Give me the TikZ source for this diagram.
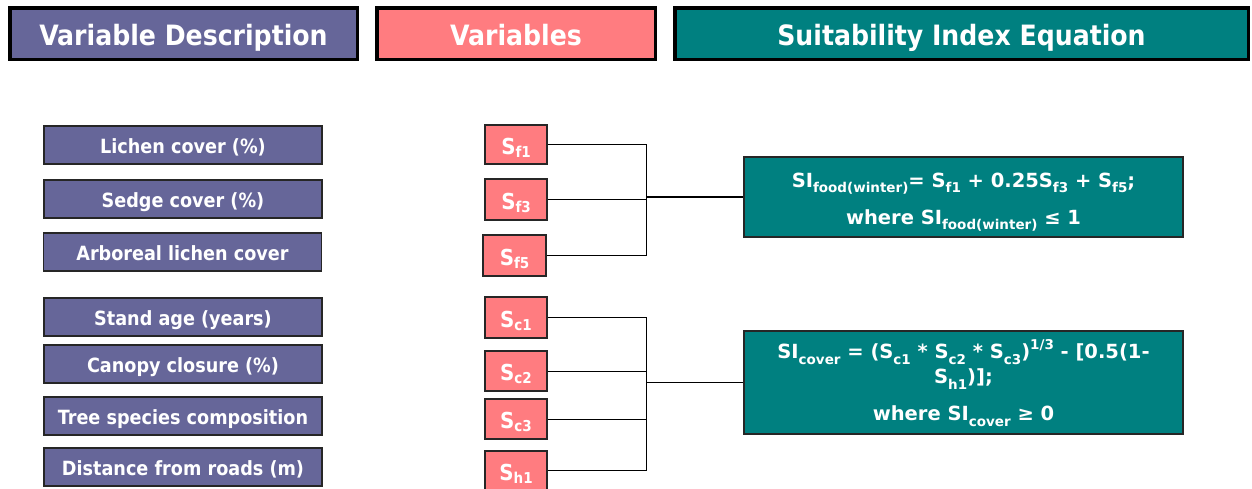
\documentclass[tikz,border=0pt]{standalone}
\usepackage{fontspec}
\setmainfont{DejaVu Sans Condensed}
\newfontfamily\eqfont{DejaVu Sans}
\definecolor{vpurple}{HTML}{666699}
\definecolor{vsalmon}{HTML}{FF7C80}
\definecolor{vteal}{HTML}{008080}
\newcommand\lowtxt[1]{\raisebox{-0.28em}{\fontsize{13.5}{13.5}\selectfont #1}}
\newcommand\hightxt[1]{\raisebox{0.45em}{\fontsize{13.5}{13.5}\selectfont #1}}
\newcommand\svar[1]{{\fontsize{22}{22}\selectfont S}\raisebox{-0.3em}{\fontsize{15}{15}\selectfont #1}}
\tikzset{
  hdr/.style={draw=black, line width=3.5pt, text=white, inner sep=0pt,
    font=\fontsize{28}{30}\selectfont\bfseries, minimum height=51.5pt,
    text height=23pt, text depth=0pt},
  desc/.style={draw=black!85, line width=1.2pt, fill=vpurple, text=white, inner sep=0pt,
    font=\fontsize{19.6}{22}\selectfont\bfseries, minimum width=278pt, minimum height=38pt,
    text height=16pt, text depth=0pt},
  varbox/.style={draw=black!85, line width=1.2pt, fill=vsalmon, text=white, inner sep=0pt,
    font=\bfseries, minimum width=62pt, minimum height=40pt,
    text height=19pt, text depth=0pt},
  eqbox/.style={draw=black!85, line width=1.2pt, fill=vteal, text=white, inner sep=0pt,
    font=\eqfont\fontsize{19.5}{25}\selectfont\bfseries, align=center, minimum width=439pt},
  link/.style={draw=black, line width=1pt},
  mainlink/.style={draw=black, line width=1.6pt}
}
\begin{document}
\begin{tikzpicture}[x=1pt,y=-1pt]
\useasboundingbox (0,0) rectangle (1252,488);
% headers
\node[hdr, fill=vpurple, minimum width=347.5pt] (h1) at (183.5,33.5) {Variable Description};
\node[hdr, fill=vsalmon, minimum width=278.5pt] (h2) at (516,33.5) {Variables};
\node[hdr, fill=vteal, minimum width=573.5pt] (h3) at (961.5,33.5) {Suitability Index Equation};
% descriptions
\node[desc] (d1) at (183,145) {Lichen cover (\%)};
\node[desc] (d2) at (183,199) {Sedge cover (\%)};
\node[desc] (d3) at (182.5,252) {Arboreal lichen cover};
\node[desc] (d4) at (183,317) {Stand age (years)};
\node[desc] (d5) at (183,364) {Canopy closure (\%)};
\node[desc] (d6) at (183,416) {Tree species composition};
\node[desc] (d7) at (183,467) {Distance from roads (m)};
% variables
\node[varbox, minimum height=39pt] (sf1) at (516,144.5) {\svar{f1}};
\node[varbox, minimum height=41pt] (sf3) at (516,199.5) {\svar{f3}};
\node[varbox, minimum height=41pt, minimum width=63pt] (sf5) at (514.5,255.5) {\svar{f5}};
\node[varbox, minimum height=41pt] (sc1) at (516,317.5) {\svar{c1}};
\node[varbox] (sc2) at (516,371) {\svar{c2}};
\node[varbox] (sc3) at (516,419) {\svar{c3}};
\node[varbox, minimum height=39pt] (sh1) at (516,470.5) {\svar{h1}};
% equations
\node[eqbox, minimum height=80pt] (food) at (963.5,197)
  {\rule{0pt}{25pt}SI\lowtxt{food(winter)}= S\lowtxt{f1} + 0.25S\lowtxt{f3} + S\lowtxt{f5};\\[12pt]
   where SI\lowtxt{food(winter)} ≤ 1};
\node[eqbox, minimum height=103pt] (cover) at (963.5,382.5)
  {\rule{0pt}{20pt}SI\lowtxt{cover} = (S\lowtxt{c1} * S\lowtxt{c2} * S\lowtxt{c3})\hightxt{1/3} - [0.5(1-\\
   S\lowtxt{h1})];\\[12pt]
   where SI\lowtxt{cover} ≥ 0};
% junctions
\coordinate (jf) at (646,197);
\coordinate (jc) at (646,382.5);
% connectors (food)
\draw[link] (sf1.east) -| (jf);
\draw[link] (sf3.east) -- (sf3.east -| jf);
\draw[link] (sf5.east) -| (jf);
\draw[mainlink] (jf) -- (food.west);
% connectors (cover)
\draw[link] (sc1.east) -| (jc);
\draw[link] (sc2.east) -- (sc2.east -| jc);
\draw[link] (sc3.east) -- (sc3.east -| jc);
\draw[link] (sh1.east) -| (jc);
\draw[mainlink] (jc) -- (cover.west);
\end{tikzpicture}
\end{document}
